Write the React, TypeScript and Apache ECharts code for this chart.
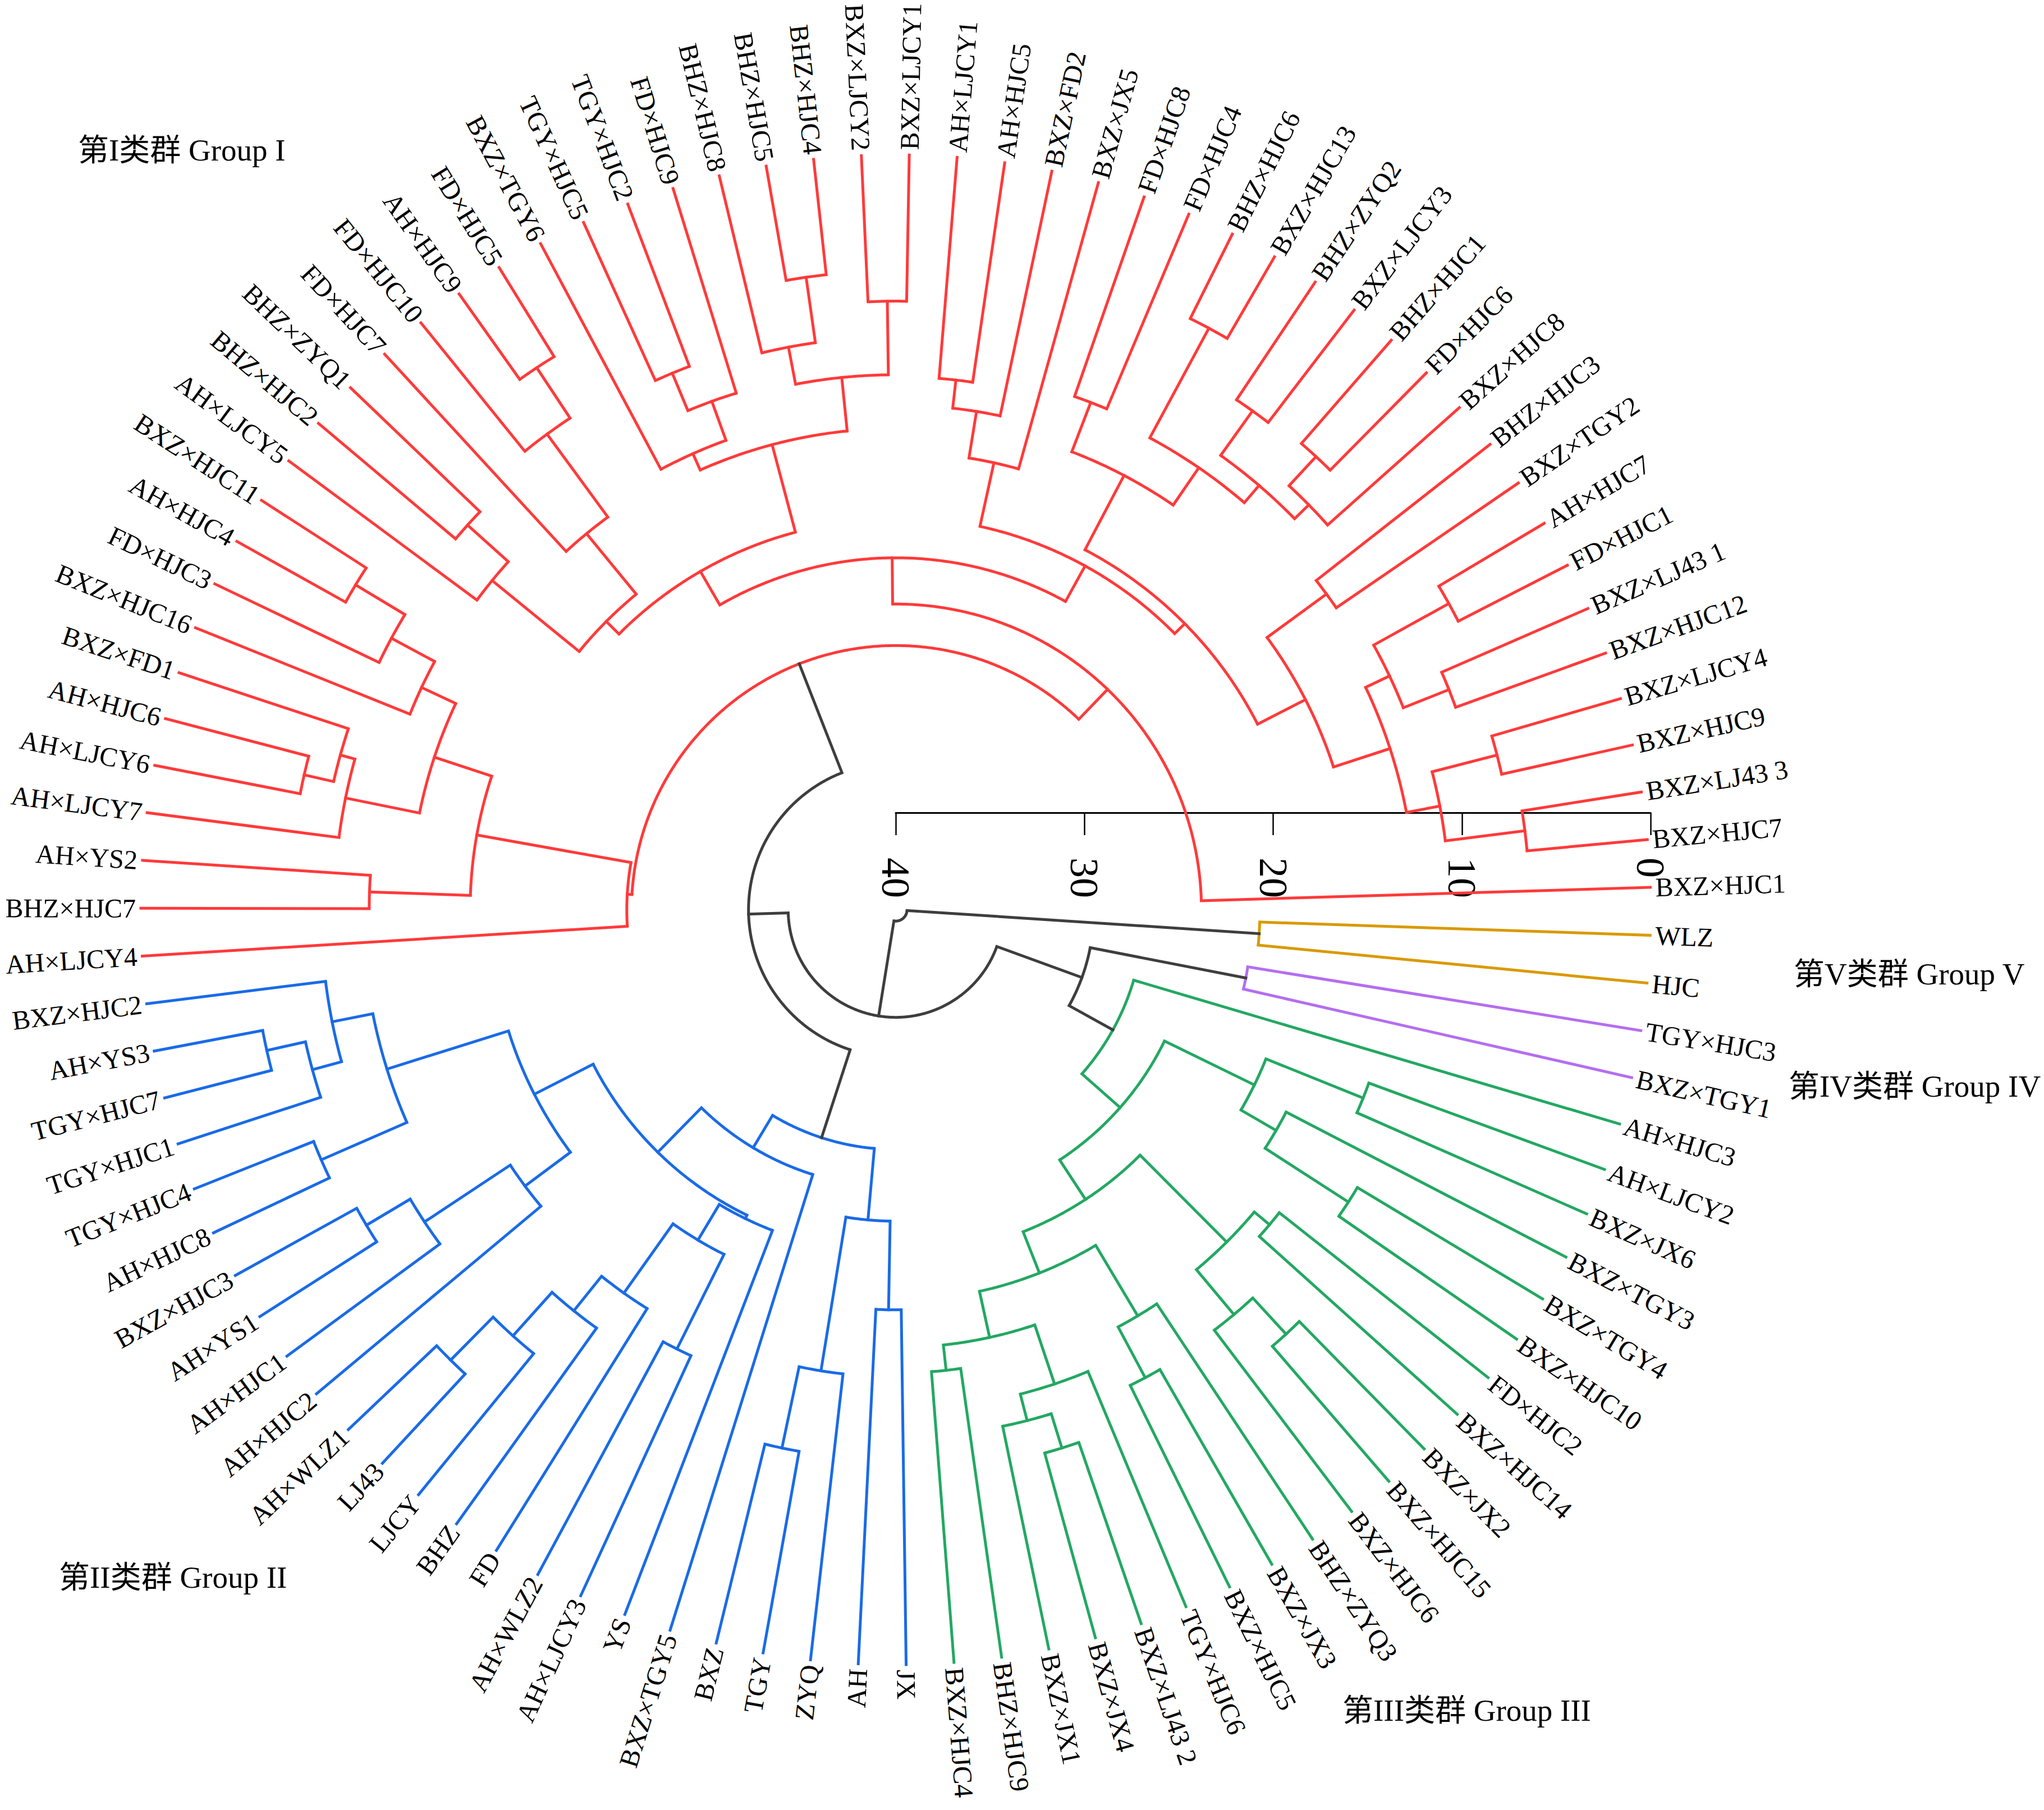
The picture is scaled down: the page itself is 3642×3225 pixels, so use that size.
import React, { useEffect, useRef } from "react";
import * as echarts from "echarts";

// ---------- DATA ----------
// Leaves, in angular order (counter-clockwise, starting just above 3 o'clock)
const groupILeaves = [
  "BXZ×HJC1", "BXZ×HJC7", "BXZ×LJ43 3", "BXZ×HJC9", "BXZ×LJCY4", "BXZ×HJC12", "BXZ×LJ43 1",
  "FD×HJC1", "AH×HJC7", "BXZ×TGY2", "BHZ×HJC3", "BXZ×HJC8", "FD×HJC6", "BHZ×HJC1",
  "BXZ×LJCY3", "BHZ×ZYQ2", "BXZ×HJC13", "BHZ×HJC6", "FD×HJC4", "FD×HJC8", "BXZ×JX5",
  "BXZ×FD2", "AH×HJC5", "AH×LJCY1", "BXZ×LJCY1", "BXZ×LJCY2", "BHZ×HJC4", "BHZ×HJC5",
  "BHZ×HJC8", "FD×HJC9", "TGY×HJC2", "TGY×HJC5", "BXZ×TGY6", "FD×HJC5", "AH×HJC9",
  "FD×HJC10", "FD×HJC7", "BHZ×ZYQ1", "BHZ×HJC2", "AH×LJCY5", "BXZ×HJC11", "AH×HJC4",
  "FD×HJC3", "BXZ×HJC16", "BXZ×FD1", "AH×HJC6", "AH×LJCY6", "AH×LJCY7", "AH×YS2",
  "BHZ×HJC7", "AH×LJCY4",
];
const groupIILeaves = [
  "BXZ×HJC2", "AH×YS3", "TGY×HJC7", "TGY×HJC1", "TGY×HJC4", "AH×HJC8", "BXZ×HJC3",
  "AH×YS1", "AH×HJC1", "AH×HJC2", "AH×WLZ1", "LJ43", "LJCY", "BHZ", "FD", "AH×WLZ2",
  "AH×LJCY3", "YS", "BXZ×TGY5", "BXZ", "TGY", "ZYQ", "AH", "JX",
];
const groupIIILeaves = [
  "BXZ×HJC4", "BHZ×HJC9", "BXZ×JX1", "BXZ×JX4", "BXZ×LJ43 2", "TGY×HJC6", "BXZ×HJC5",
  "BXZ×JX3", "BHZ×ZYQ3", "BXZ×HJC6", "BXZ×HJC15", "BXZ×JX2", "BXZ×HJC14", "FD×HJC2",
  "BXZ×HJC10", "BXZ×TGY4", "BXZ×TGY3", "BXZ×JX6", "AH×LJCY2", "AH×HJC3",
];
const groupIVLeaves = ["BXZ×TGY1", "TGY×HJC3"];
const groupVLeaves = ["HJC", "WLZ"];

// Merges: [child, child, distance]. Numbers = leaf index, "m#" = earlier merge (global index).
type Ref = number | string;
type Merge = [Ref, Ref, number];

const groupIMerges: Merge[] = [
  [1, 2, 6.4], [3, 4, 7.1], ["m0", "m1", 10.65], [5, 6, 8.45], [7, 8, 6.5],
  ["m3", "m4", 11.05], ["m2", "m5", 12.45], [9, 10, 11.7], ["m6", "m7", 15.6],
  [12, 13, 7.25], [11, "m9", 9.35], [14, 15, 7.5], ["m10", "m11", 10.4], [16, 17, 5.0],
  ["m12", "m13", 11.6], [18, 19, 11.2], ["m14", "m15", 14.0], ["m8", "m16", 18.45],
  [22, 23, 11.75], [21, "m18", 13.25], [20, "m19", 15.75], ["m17", "m20", 19.2],
  [24, 25, 7.75], [26, 27, 6.15], [28, "m23", 9.65], ["m22", "m24", 11.65],
  [30, 31, 9.2], [29, "m26", 11.35], [32, "m27", 13.55], ["m25", "m28", 14.5],
  [33, 34, 5.55], [35, "m30", 8.75], [36, "m31", 14.2], [37, 38, 9.5], [39, "m33", 12.4],
  ["m32", "m34", 18.35], ["m29", "m35", 19.3], ["m21", "m36", 21.35], [0, "m37", 23.8],
  [40, 41, 6.6], [42, "m39", 9.65], [43, "m40", 12.25], [45, 46, 7.85], [44, "m42", 9.45],
  [47, "m43", 10.25], ["m41", "m44", 14.25], [48, 49, 12.1], ["m45", "m46", 17.45],
  [50, "m47", 25.75], ["m38", "m48", 26.0],
];
const groupIIMerges: Merge[] = [
  [52, 53, 5.85], ["m50", 54, 7.95], [51, "m51", 9.55], [55, 56, 6.8], ["m52", "m53", 11.75],
  [57, 58, 7.35], ["m55", 59, 10.05], ["m56", 60, 15.5], ["m54", "m57", 18.5],
  [61, 62, 6.45], ["m59", 63, 9.65], ["m60", 64, 12.75], ["m61", 65, 15.1], [66, 67, 14.0],
  ["m62", "m63", 19.6], ["m64", 68, 21.8], ["m58", "m65", 22.0], ["m66", 69, 25.3],
  [70, 71, 10.85], ["m68", 72, 15.25], [73, 74, 18.8], ["m69", "m70", 23.5],
  ["m67", "m71", 27.3],
];
const groupIIIMerges: Merge[] = [
  [75, 76, 15.45], [78, 79, 10.15], [77, "m74", 12.05], ["m75", 80, 13.5], ["m73", "m76", 16.8],
  [81, 82, 11.9], ["m78", 83, 14.95], ["m77", "m79", 19.3], [85, 86, 9.45], [84, "m81", 12.05],
  [87, 88, 14.1], ["m82", "m83", 15.15], ["m80", "m84", 21.65], [89, 90, 11.45],
  ["m86", 91, 16.7], [92, 93, 13.3], ["m87", "m88", 18.85], ["m85", "m89", 24.15],
  ["m90", 94, 26.85],
];
const groupIVMerges: Merge[] = [[95, 96, 21.1]];
const groupVMerges: Merge[] = [[97, 98, 20.7]];
const backboneMerges: Merge[] = [
  ["m49", "m72", 32.2], ["m92", "m91", 29.5], ["m94", "m95", 34.3], ["m96", "m93", 39.4],
];

const groupTitles = [
  "第I类群 Group I", "第II类群 Group II", "第III类群 Group III", "第IV类群 Group IV", "第V类群 Group V",
];
const scaleMax = 40;
const scaleStep = 10;

// ---------- STYLE / LAYOUT ----------
const groupColors = ["#FF3A3A", "#1A6BE6", "#23A862", "#B46EF0", "#D99A00"];
const backboneColor = "#3E3E3E";
const FONT = '"Liberation Serif", "Times New Roman", "Noto Sans CJK SC", serif';
const CX = 1596;
const CY = 1621;
const R = 1345;
const START_ANGLE = 1.7;
const AXIS_Y = 1448;
const LW = 5;
const titlePos = [
  [139, 267], [105, 2810], [2392, 3047], [3187, 1935], [3196, 1735],
];

export default function App() {
  const ref = useRef<HTMLDivElement>(null);

  useEffect(() => {
    if (!ref.current) return;
    const chart = echarts.init(ref.current, null, { renderer: "svg" });

    const leaves = [
      ...groupILeaves, ...groupIILeaves, ...groupIIILeaves, ...groupIVLeaves, ...groupVLeaves,
    ];
    const groups = [groupIMerges, groupIIMerges, groupIIIMerges, groupIVMerges, groupVMerges];
    const merges: Merge[] = [];
    const colors: string[] = [];
    groups.forEach((g, gi) => g.forEach((m) => { merges.push(m); colors.push(groupColors[gi]); }));
    backboneMerges.forEach((m) => { merges.push(m); colors.push(backboneColor); });

    const ang: number[] = [];
    const hgt: number[] = [];
    const get = (r: Ref) =>
      typeof r === "number" ? { a: r, h: 0 } : { a: ang[+r.slice(1)], h: hgt[+r.slice(1)] };
    merges.forEach((m, i) => {
      const A = get(m[0]);
      const B = get(m[1]);
      ang[i] = (A.a + B.a) / 2;
      hgt[i] = m[2];
    });

    const treeSeries = {
      type: "custom",
      coordinateSystem: "polar",
      silent: true,
      data: merges.map((_, i) => [hgt[i], ang[i]]),
      renderItem: (params: any, api: any) => {
        const i = params.dataIndex;
        const m = merges[i];
        const A = get(m[0]);
        const B = get(m[1]);
        const h = hgt[i];
        const color = colors[i];
        const lo = Math.min(A.a, B.a);
        const hi = Math.max(A.a, B.a);
        const n = Math.max(2, Math.ceil((hi - lo) / 0.1));
        const pts: number[][] = [];
        for (let k = 0; k <= n; k++) pts.push(api.coord([h, lo + ((hi - lo) * k) / n]));
        const seg = (c: { a: number; h: number }) => {
          const p1 = api.coord([c.h, c.a]);
          const p2 = api.coord([h, c.a]);
          return {
            type: "line",
            shape: { x1: p1[0], y1: p1[1], x2: p2[0], y2: p2[1] },
            style: { stroke: color, lineWidth: LW, lineCap: "square" },
          };
        };
        return {
          type: "group",
          children: [
            {
              type: "polyline",
              shape: { points: pts },
              style: { stroke: color, lineWidth: LW, fill: "none", lineJoin: "round" },
            },
            seg(A),
            seg(B),
          ],
        };
      },
    };

    const labelSeries = {
      type: "custom",
      coordinateSystem: "polar",
      silent: true,
      data: leaves.map((_, k) => [0, k]),
      renderItem: (params: any, api: any) => {
        const k = params.dataIndex;
        const c = api.coord([scaleMax, 0]);
        const p = api.coord([0, k]);
        const dx = p[0] - c[0];
        const dy = p[1] - c[1];
        const len = Math.hypot(dx, dy) || 1;
        const gap = 9;
        const x = p[0] + (dx / len) * gap;
        const y = p[1] + (dy / len) * gap;
        const theta = Math.atan2(-dy, dx);
        const right = dx >= 0;
        const rotation = right ? theta : theta > 0 ? theta - Math.PI : theta + Math.PI;
        return {
          type: "text",
          x,
          y,
          rotation,
          style: {
            text: leaves[k],
            fill: "#000",
            fontSize: 48,
            fontFamily: FONT,
            align: right ? "left" : "right",
            verticalAlign: "middle",
          },
        };
      },
    };

    const option: any = {
      animation: false,
      backgroundColor: "#fff",
      polar: { center: [CX, CY], radius: [0, R] },
      angleAxis: {
        type: "value",
        min: 0,
        max: leaves.length,
        startAngle: START_ANGLE,
        clockwise: false,
        show: false,
        axisLine: { show: false },
        axisTick: { show: false },
        axisLabel: { show: false },
        splitLine: { show: false },
      },
      radiusAxis: {
        type: "value",
        min: 0,
        max: scaleMax,
        inverse: true,
        show: false,
        axisLine: { show: false },
        axisTick: { show: false },
        axisLabel: { show: false },
        splitLine: { show: false },
      },
      grid: { left: CX, width: R, top: AXIS_Y - 200, height: 200 },
      xAxis: {
        type: "value",
        min: 0,
        max: scaleMax,
        interval: scaleStep,
        inverse: true,
        position: "bottom",
        axisLine: { show: true, lineStyle: { color: "#000", width: 3 } },
        axisTick: { show: true, length: 40, lineStyle: { color: "#000", width: 2.5 } },
        axisLabel: {
          show: true,
          rotate: -90,
          margin: 80,
          fontSize: 72,
          fontFamily: FONT,
          color: "#000",
        },
        splitLine: { show: false },
      },
      yAxis: { type: "value", show: false, splitLine: { show: false } },
      graphic: groupTitles.map((t, i) => ({
        type: "text",
        x: titlePos[i][0],
        y: titlePos[i][1],
        silent: true,
        style: {
          text: t,
          fill: "#000",
          fontSize: 55,
          fontFamily: FONT,
          verticalAlign: "middle",
        },
      })),
      series: [treeSeries, labelSeries],
    };

    chart.setOption(option);
    return () => chart.dispose();
  }, []);

  return (
    <div
      ref={ref}
      style={{ position: "absolute", left: 0, top: 0, width: "3642px", height: "3225px", background: "#fff" }}
    />
  );
}
